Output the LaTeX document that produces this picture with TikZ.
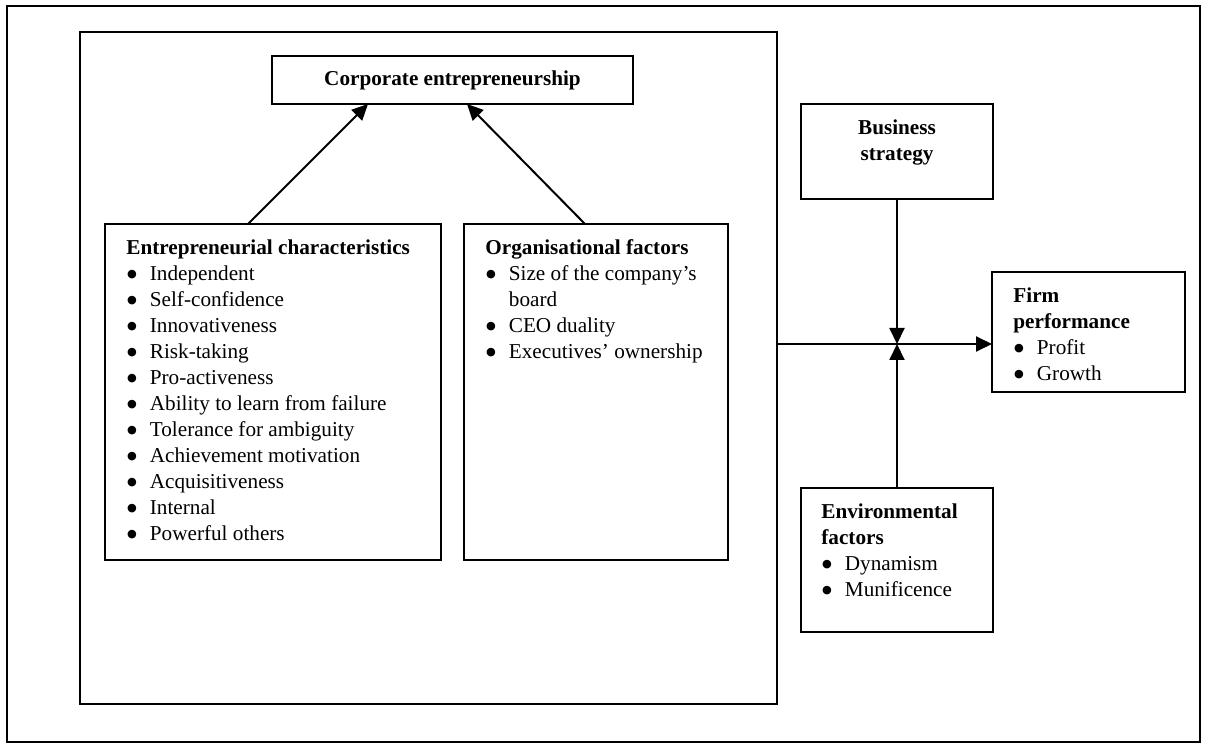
\documentclass[tikz,border=0pt]{standalone}
\usepackage{fontspec}
\setmainfont{Liberation Serif}
\newfontfamily\dotfont{DejaVu Sans}
\usetikzlibrary{arrows.meta,positioning}

% bullet line with a hanging indent
\newcommand{\bitem}[1]{\makebox[11.75pt][l]{\hspace{0.3pt}\raisebox{1.3pt}{\dotfont\fontsize{5.6}{6}\selectfont ●}}#1}
\newcommand{\bcont}[1]{\hspace*{11.75pt}#1}

\tikzset{
  frame/.style ={draw, line width=1pt, rectangle, inner sep=0pt, outer sep=0pt, anchor=north west},
  entry/.style ={inner sep=0pt, align=left, font=\fontsize{10.6}{13}\selectfont, anchor=north west},
  link/.style  ={line width=1pt, -{Triangle[length=8pt,width=7.5pt]}}
}

\begin{document}
\begin{tikzpicture}[x=0.5pt, y=-0.5pt]
   \useasboundingbox (0,0) rectangle (1207,749);

   % frames
   \node[frame, minimum width=596.5pt, minimum height=368pt] (outer) at (7,6) {};
   \node[frame, minimum width=348.5pt, minimum height=336pt] (model) at (80,32) {};
   \node[frame, minimum width=180.5pt, minimum height=24pt] (corp) at (272,56) {};
   \node[frame, minimum width=168pt, minimum height=168pt] (ent) at (105,224) {};
   \node[frame, minimum width=132pt, minimum height=168pt] (org) at (464,224) {};
   \node[frame, minimum width=96pt, minimum height=47.5pt] (strat) at (801,104) {};
   \node[frame, minimum width=96.5pt, minimum height=60pt] (firm) at (992,272) {};
   \node[frame, minimum width=96pt, minimum height=72pt] (env) at (801,488) {};
   \coordinate (hub) at (897,344);

   % texts
   \node[font=\fontsize{10.6}{13}\selectfont\bfseries, inner sep=0pt] (corptxt) at (corp.center) {Corporate entrepreneurship};
   \node[entry] (enttxt) [below right=5.9pt and 10.5pt of ent.north west]
     {\strut\textbf{Entrepreneurial characteristics}\\
      \strut\bitem{Independent}\\
      \strut\bitem{Self-confidence}\\
      \strut\bitem{Innovativeness}\\
      \strut\bitem{Risk-taking}\\
      \strut\bitem{Pro-activeness}\\
      \strut\bitem{Ability to learn from failure}\\
      \strut\bitem{Tolerance for ambiguity}\\
      \strut\bitem{Achievement motivation}\\
      \strut\bitem{Acquisitiveness}\\
      \strut\bitem{Internal}\\
      \strut\bitem{Powerful others}};
   \node[entry] (orgtxt) [below right=5.9pt and 10.5pt of org.north west]
     {\strut\textbf{Organisational factors}\\
      \strut\bitem{Size of the company’s}\\
      \strut\bcont{board}\\
      \strut\bitem{CEO duality}\\
      \strut\bitem{Executives’ ownership}};
   \node[entry, align=center, anchor=north] (strattxt) [below=5.9pt of strat.north]
     {\strut\textbf{Business}\\
      \strut\textbf{strategy}};
   \node[entry] (firmtxt) [below right=5.9pt and 10.5pt of firm.north west]
     {\strut\textbf{Firm}\\
      \strut\textbf{performance}\\
      \strut\bitem{Profit}\\
      \strut\bitem{Growth}};
   \node[entry] (envtxt) [below right=5.9pt and 10pt of env.north west]
     {\strut\textbf{Environmental}\\
      \strut\textbf{factors}\\
      \strut\bitem{Dynamism}\\
      \strut\bitem{Munificence}};

   % arrows
   \draw[link] ([xshift=-12.5pt]ent.north) to ([xshift=-42.25pt]corp.south);
   \draw[link] ([xshift=-5.5pt]org.north) to ([xshift=7.25pt]corp.south);
   \draw[link] (hub -| model.east) to (hub -| firm.west);
   \draw[link] (strat.south) to (hub);
   \draw[link] (env.north) to (hub);
 \end{tikzpicture}
\end{document}
